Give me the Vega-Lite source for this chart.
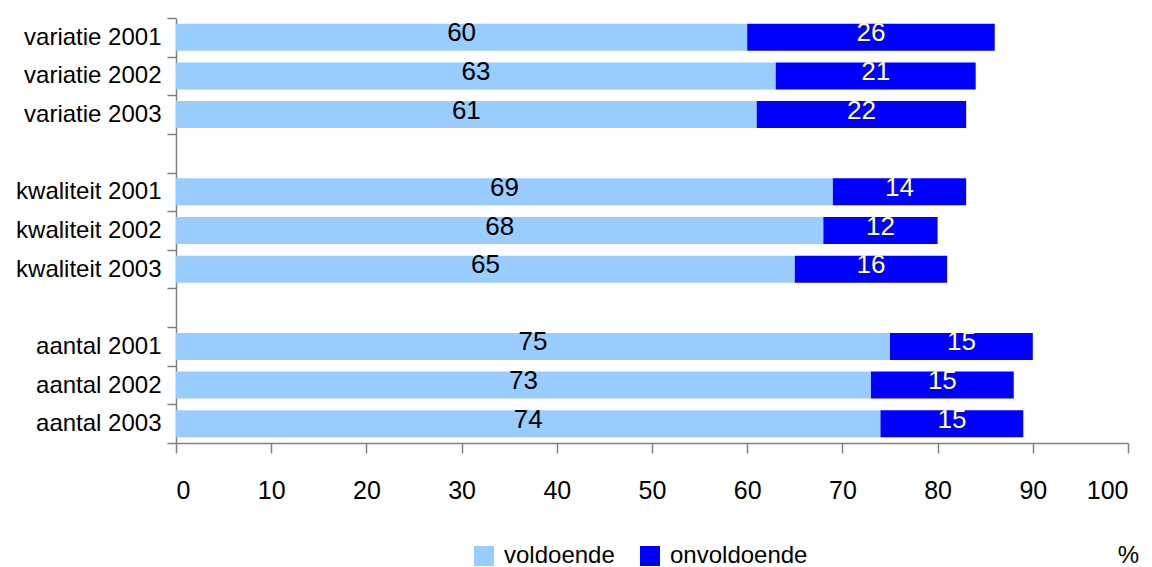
{
  "$schema": "https://vega.github.io/schema/vega-lite/v6.json",
  "autosize": {"type": "none"},
  "padding": {"left": 176, "top": 18, "right": 24, "bottom": 124},
  "width": 952,
  "height": 425,
  "background": "white",
  "config": {
    "font": "Liberation Sans",
    "view": {"stroke": null}
  },
  "data": {
    "values": [
      {"cat": "variatie 2001", "type": "voldoende", "value": 60},
      {"cat": "variatie 2001", "type": "onvoldoende", "value": 26},
      {"cat": "variatie 2002", "type": "voldoende", "value": 63},
      {"cat": "variatie 2002", "type": "onvoldoende", "value": 21},
      {"cat": "variatie 2003", "type": "voldoende", "value": 61},
      {"cat": "variatie 2003", "type": "onvoldoende", "value": 22},
      {"cat": "kwaliteit 2001", "type": "voldoende", "value": 69},
      {"cat": "kwaliteit 2001", "type": "onvoldoende", "value": 14},
      {"cat": "kwaliteit 2002", "type": "voldoende", "value": 68},
      {"cat": "kwaliteit 2002", "type": "onvoldoende", "value": 12},
      {"cat": "kwaliteit 2003", "type": "voldoende", "value": 65},
      {"cat": "kwaliteit 2003", "type": "onvoldoende", "value": 16},
      {"cat": "aantal 2001", "type": "voldoende", "value": 75},
      {"cat": "aantal 2001", "type": "onvoldoende", "value": 15},
      {"cat": "aantal 2002", "type": "voldoende", "value": 73},
      {"cat": "aantal 2002", "type": "onvoldoende", "value": 15},
      {"cat": "aantal 2003", "type": "voldoende", "value": 74},
      {"cat": "aantal 2003", "type": "onvoldoende", "value": 15}
    ]
  },
  "transform": [
    {"stack": "value", "groupby": ["cat"], "sort": [{"field": "type", "order": "descending"}], "as": ["v0", "v1"]},
    {"calculate": "(datum.v0 + datum.v1) / 2", "as": "mid"}
  ],
  "encoding": {
    "y": {
      "field": "cat",
      "type": "nominal",
      "scale": {
        "domain": ["variatie 2001", "variatie 2002", "variatie 2003", "g1", "kwaliteit 2001", "kwaliteit 2002", "kwaliteit 2003", "g2", "aantal 2001", "aantal 2002", "aantal 2003"],
        "paddingInner": 0,
        "paddingOuter": 0
      },
      "axis": {
        "title": null,
        "tickBand": "extent",
        "labelExpr": "datum.value == 'g1' || datum.value == 'g2' ? '' : datum.value",
        "labelFontSize": 24,
        "labelColor": "#000000",
        "labelPadding": 6,
        "tickSize": 9,
        "tickColor": "#808080",
        "domainColor": "#808080",
        "tickWidth": 1.5,
        "domainWidth": 1.5
      }
    }
  },
  "layer": [
    {
      "mark": {"type": "bar", "size": 27},
      "encoding": {
        "x": {
          "field": "v0",
          "type": "quantitative",
          "scale": {"domain": [0, 100], "nice": false},
          "axis": {
            "values": [0, 10, 20, 30, 40, 50, 60, 70, 80, 90, 100],
            "grid": false,
            "title": "%",
            "titleFontSize": 24,
            "titleFontWeight": "normal",
            "titleX": 952,
            "titleY": 119,
            "titleAlign": "center",
            "titleBaseline": "alphabetic",
            "labelFontSize": 25,
            "labelColor": "#000000",
            "labelPadding": 25,
            "tickSize": 10,
            "tickColor": "#808080",
            "domainColor": "#808080",
            "tickWidth": 1.5,
            "domainWidth": 1.5
          }
        },
        "x2": {"field": "v1"},
        "color": {
          "field": "type",
          "type": "nominal",
          "scale": {"domain": ["voldoende", "onvoldoende"], "range": ["#99CCFF", "#0000FF"]},
          "legend": {
            "title": null,
            "orient": "none",
            "direction": "horizontal",
            "legendX": 296,
            "legendY": 526,
            "symbolType": "square",
            "symbolSize": 400,
            "symbolStrokeWidth": 0,
            "labelFontSize": 24,
            "labelColor": "#000000",
            "labelOffset": 8,
            "columnPadding": 23
          }
        }
      }
    },
    {
      "mark": {"type": "text", "dy": -4, "fontSize": 26, "align": "center", "baseline": "middle"},
      "encoding": {
        "x": {"field": "mid", "type": "quantitative"},
        "text": {"field": "value", "type": "quantitative"},
        "color": {
          "condition": {"test": "datum.type == 'onvoldoende'", "value": "#FFFF99"},
          "value": "#000000"
        }
      }
    }
  ]
}
